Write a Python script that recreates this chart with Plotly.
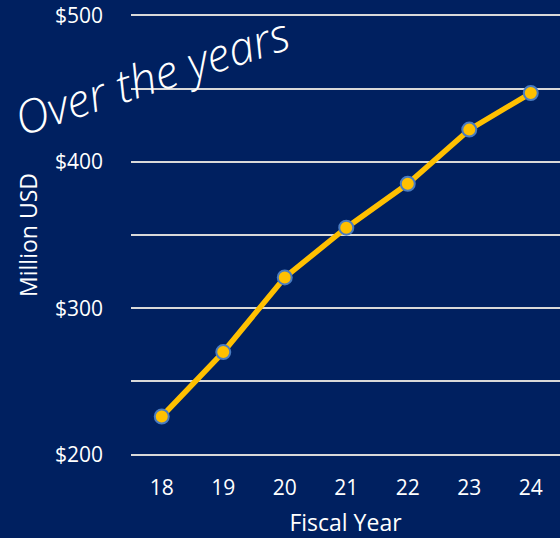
import plotly.graph_objects as go

years = ["18", "19", "20", "21", "22", "23", "24"]
values = [226, 270, 321, 355, 385, 422, 447]
y_tickvals = [200, 250, 300, 350, 400, 450, 500]
y_ticktext = ["$200", "", "$300", "", "$400", "", "$500"]

BG = "#002060"
GOLD = "#FFC000"
FONT = "Open Sans"

fig = go.Figure()
fig.add_trace(go.Scatter(
    x=years, y=values, mode="lines+markers",
    line=dict(color=GOLD, width=5.5),
    marker=dict(color=GOLD, size=14, line=dict(color="#4A7CC0", width=2)),
    hoverinfo="skip", showlegend=False,
))

fig.update_layout(
    width=560, height=538,
    margin=dict(l=131, r=0, t=14, b=82),
    paper_bgcolor=BG, plot_bgcolor=BG,
    font=dict(family=FONT, color="white", size=21),
    xaxis=dict(
        type="category", range=[-0.5, 6.475],
        showgrid=False, zeroline=False, showline=False,
        ticks="", tickfont=dict(size=21, color="white"),
        ticklabelstandoff=17,
        title=dict(text="Fiscal Year", font=dict(size=23, color="white"), standoff=15),
    ),
    yaxis=dict(
        range=[199, 501], tickvals=y_tickvals, ticktext=y_ticktext,
        showgrid=True, gridcolor="#D9D9D9", gridwidth=2,
        zeroline=False, showline=False, ticks="",
        ticklabelstandoff=27,
        tickfont=dict(size=21, color="white"),
        title=dict(text="Million USD", font=dict(size=23, color="white"), standoff=10),
    ),
    annotations=[dict(
        text="Over the years", xref="paper", yref="paper",
        x=0.048, y=0.862, xanchor="center", yanchor="middle",
        showarrow=False, textangle=-18,
        font=dict(family=FONT, size=46, color="white", style="italic", weight=300),
    )],
)

fig.write_html("out.html")
